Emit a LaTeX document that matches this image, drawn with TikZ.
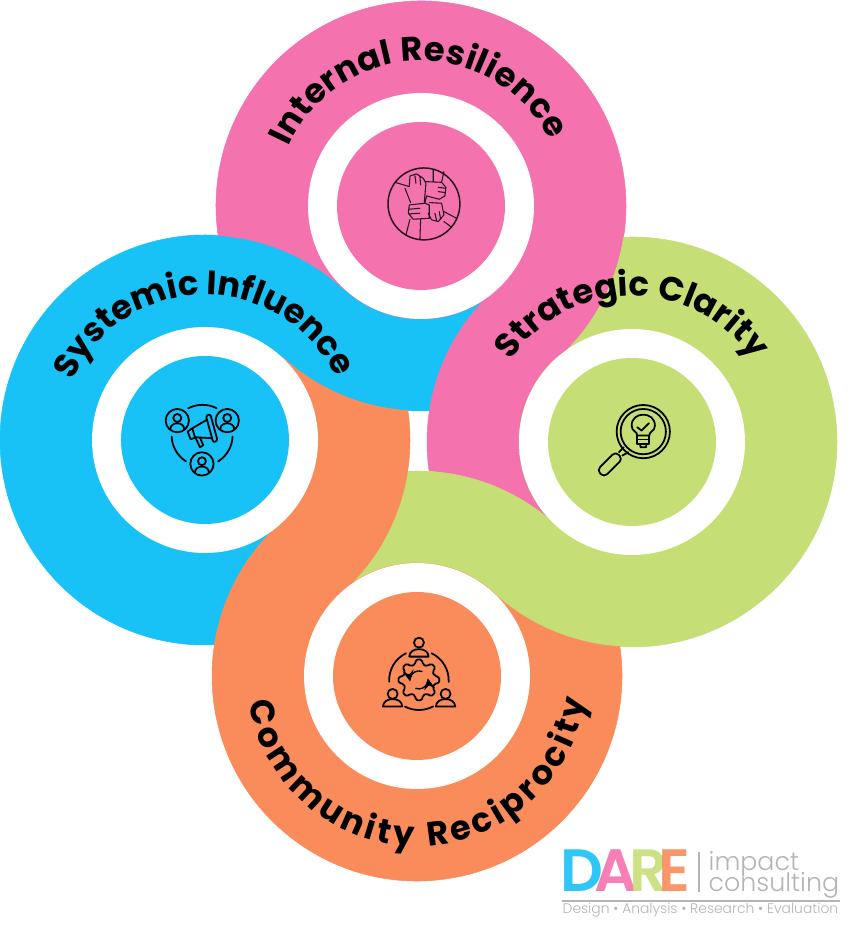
\documentclass[tikz,border=0pt]{standalone}
\usepackage{fontspec}
\setmainfont{Poppins}
\newfontfamily\logolight{Poppins Light}
\newfontfamily\titlefont{Poppins SemiBold}
\usetikzlibrary{arrows, calc, positioning, decorations.text}
\definecolor{ringpink}{HTML}{F472AE}
\definecolor{ringblue}{HTML}{18C1F6}
\definecolor{ringgreen}{HTML}{C5DE76}
\definecolor{ringorange}{HTML}{F98C5A}
\definecolor{logogray}{HTML}{B4B4B6}
\newcommand{\ringarc}[4]{-- ($(#1)+(#3:#2)$) arc[start angle=#3,end angle=#4,radius=#2]}

\begin{document}
\begin{tikzpicture}[
        ringbody/.style={fill=#1, draw=#1, line width=0.15pt},
        hole/.style={circle, fill=white, minimum size=2.26cm, inner sep=0pt},
        hub/.style={circle, minimum size=1.68cm, inner sep=0pt},
        ringtext/.style={decorate, decoration={text along path, text align=fit to path,
            text={|\fontsize{9.6}{12}\selectfont\bfseries|#1}}},
        iconline/.style={black, line width=0.5pt, line cap=round, line join=round},
        handline/.style={black!85!ringpink, line width=0.3pt, line cap=round, line join=round},
        dareletter/.style={inner sep=0pt, text opacity=0.9, font=\titlefont\fontsize{17}{18}\selectfont},
        logotext/.style={inner sep=0pt, text=logogray, font=\logolight\fontsize{7.2}{8}\selectfont}
    ]
        \useasboundingbox (0,0) rectangle (8.51,9.33);

        % Centres of the four rings
        \coordinate (pink) at (4.21,7.27);
        \coordinate (blue) at (2.05,4.93);
        \coordinate (green) at (6.32,4.91);
        \coordinate (orange) at (4.17,2.57);

        % Ring bodies, each one runs on into its neighbour
        \path[ringbody=ringblue] (pink) ++(227.3:1.13) arc[start angle=227.3,end angle=311.8,radius=1.13]
            \ringarc{green}{2.05}{131.8}{171.2} \ringarc{pink}{2.05}{272.3}{227.3}
            \ringarc{blue}{1.13}{47.3}{-48.1} \ringarc{orange}{2.05}{131.9}{171.3}
            \ringarc{blue}{2.05}{272.6}{47.3} -- cycle;
        \path[ringbody=ringpink] (green) ++(131.8:1.13) arc[start angle=131.8,end angle=227.4,radius=1.13]
            \ringarc{orange}{2.05}{47.4}{86.6} \ringarc{green}{2.05}{188.2}{131.8}
            \ringarc{pink}{1.13}{311.8}{227.3} \ringarc{blue}{2.05}{47.3}{86.3}
            \ringarc{pink}{2.05}{188.3}{-48.2} -- cycle;
        \path[ringbody=ringgreen] (orange) ++(47.4:1.13) arc[start angle=47.4,end angle=131.9,radius=1.13]
            \ringarc{blue}{2.05}{311.9}{351.3} \ringarc{orange}{2.05}{92.6}{47.4}
            \ringarc{green}{1.13}{227.4}{131.8} \ringarc{pink}{2.05}{311.8}{351.3}
            \ringarc{green}{2.05}{92.3}{-132.6} -- cycle;
        \path[ringbody=ringorange] (blue) ++(311.9:1.13) arc[start angle=311.9,end angle=407.3,radius=1.13]
            \ringarc{pink}{2.05}{227.3}{266.3} \ringarc{blue}{2.05}{8.3}{-48.1}
            \ringarc{orange}{1.13}{131.9}{47.4} \ringarc{green}{2.05}{227.4}{266.6}
            \ringarc{orange}{2.05}{8.2}{-228.1} -- cycle;

        % White holes and hubs
        \node (pinkhole) [hole] at (pink) {};
        \node (bluehole) [hole] at (blue) {};
        \node (greenhole) [hole] at (green) {};
        \node (orangehole) [hole] at (orange) {};
        \node (pinkhub) [hub, fill=ringpink] at (pink) {};
        \node (bluehub) [hub, fill=ringblue] at (blue) {};
        \node (greenhub) [hub, fill=ringgreen] at (green) {};
        \node (orangehub) [hub, fill=ringorange] at (orange) {};

        % Ring titles
        \path[ringtext={Internal Resilience}] (pink) ++(156:1.45) arc[start angle=156,end angle=27,radius=1.45];
        \path[ringtext={Systemic Influence}] (blue) ++(156:1.45) arc[start angle=156,end angle=26,radius=1.45];
        \path[ringtext={Strategic Clarity}] (green) ++(146:1.46) arc[start angle=146,end angle=34,radius=1.46];
        \path[ringtext={Community Reciprocity}] (orange) ++(189:1.70) arc[start angle=189,end angle=352,radius=1.70];

        % Icon: joined hands
        \begin{scope}[shift={(3.70,7.83)}, x=0.0333mm, y=-0.0333mm]
            \draw[handline, line width=0.42pt] (162,162) circle[radius=108];
            \draw[handline] (78,98) -- (118,110) (105,115) -- (122,158)
                (118,110) -- (120,78) -- (140,72) -- (160,85) -- (168,100) -- (163,158)
                (135,78) -- (138,100) (150,80) -- (152,105);
            \draw[handline] (190,60) -- (190,95) (222,65) -- (215,97)
                (165,95) -- (215,97) -- (228,112) -- (225,138) -- (208,148) -- (170,138) -- (165,158)
                (205,112) -- (226,115) (205,125) -- (226,128);
            \draw[handline] (222,185) -- (260,205) (222,215) -- (245,232)
                (178,158) -- (215,160) -- (222,195) -- (205,215) -- (185,210) -- (175,190)
                (195,190) -- (200,212) (208,185) -- (212,208);
            \draw[handline] (120,208) -- (108,255) (152,210) -- (150,268)
                (118,165) -- (165,160) -- (178,165) -- (178,205) -- (130,208) -- (115,190) -- cycle
                (118,178) -- (150,175) (118,192) -- (150,190);
        \end{scope}

        % Icon: megaphone and three people
        \begin{scope}[shift={(1.50,5.43)}, x=0.0333mm, y=-0.0333mm]
            \foreach \px/\py in {82/92, 232/92, 156/222} {
                \draw[iconline] (\px,\py) circle[radius=35];
                \draw[iconline] (\px,\py-8) circle[radius=12];
                \draw[iconline] (\px-21,\py+26) .. controls (\px-21,\py+2) and (\px+21,\py+2) .. (\px+21,\py+26);
            }
            \draw[iconline] (115,55) arc[start angle=-117.4,end angle=-63,radius=93];
            \draw[iconline] (65,140) arc[start angle=177.5,end angle=122.3,radius=93];
            \draw[iconline] (248,140) arc[start angle=2.5,end angle=57.7,radius=93];
            \draw[iconline, rounded corners=0.6pt] (168,78) -- (181,72) -- (203,152) -- (190,158) -- cycle;
            \draw[iconline] (170,90) -- (127,115) -- (113,125) -- (122,148) -- (140,142) -- (186,145);
            \draw[iconline] (127,115) -- (135,142);
            \draw[iconline] (138,146) -- (150,172) -- (160,166) -- (150,143);
        \end{scope}

        % Icon: magnifier over a bulb
        \begin{scope}[shift={(5.85,5.38)}, x=0.0333mm, y=-0.0333mm]
            \draw[iconline] (175,110) circle[radius=80];
            \draw[iconline] (175,110) circle[radius=68];
            \draw[iconline] (157,122) .. controls (157,108) and (140,110) .. (140,92)
                .. controls (140,48) and (210,48) .. (210,92)
                .. controls (210,110) and (193,108) .. (193,122) -- cycle;
            \draw[iconline] (157,97) -- (170,107) -- (192,85);
            \draw[iconline] (157,122) -- (157,147) -- (193,147) -- (193,122) (157,134) -- (193,134);
            \draw[iconline] (165,147) -- (167,157) -- (183,157) -- (185,147);
            \draw[iconline, rounded corners=1.2pt] (92,170) -- (113,192) -- (57,247) -- (36,226) -- cycle;
            \draw[iconline] (102,172) -- (116,157) (112,182) -- (130,172);
        \end{scope}

        % Icon: gear and three people
        \begin{scope}[shift={(3.70,3.08)}, x=0.0333mm, y=-0.0333mm]
            \draw[iconline] (147,53) circle[radius=15];
            \draw[iconline] (118,95) .. controls (118,65) and (176,65) .. (176,95) -- cycle;
            \draw[iconline] (68,207) circle[radius=15];
            \draw[iconline] (39,245) .. controls (39,215) and (97,215) .. (97,245) -- cycle;
            \draw[iconline] (227,207) circle[radius=15];
            \draw[iconline] (198,245) .. controls (198,215) and (256,215) .. (256,245) -- cycle;
            \draw[iconline] (108,85) arc[start angle=-116,end angle=-183,radius=90];
            \draw[iconline] (185,85) arc[start angle=-64.6,end angle=3,radius=90];
            \draw[iconline] (105,245) arc[start angle=117.7,end angle=61.7,radius=90];
            \begin{scope}[shift={(147,165)}]
                \draw[iconline, rounded corners=0.5pt] (-13:48)
                    \foreach \t in {0,45,...,315} { -- (\t-13:48) -- (\t-9:62) -- (\t+9:62) -- (\t+13:48) } -- cycle;
                \draw[iconline, line width=0.4pt, ->, >=stealth] (-70:27) arc[start angle=-70,end angle=-190,radius=27];
                \draw[iconline, line width=0.4pt, ->, >=stealth] (110:27) arc[start angle=110,end angle=-10,radius=27];
            \end{scope}
        \end{scope}

        % Logo
        \node (logod) [dareletter, text=ringblue, anchor=base west] at (5.60,0.41) {D};
        \node (logoa) [dareletter, text=ringpink, base right=-0.10cm of logod] {A};
        \node (logor) [dareletter, text=ringgreen, base right=-0.10cm of logoa] {R};
        \node (logoe) [dareletter, text=ringorange, base right=-0.10cm of logor] {E};
        \coordinate (bartop) at (6.99,0.81);
        \coordinate (barbottom) at (6.99,0.41);
        \draw[logogray, line width=0.6pt] (bartop) -- (barbottom);
        \node (impact) [logotext, anchor=base west] at (7.08,0.62) {impact};
        \node (consulting) [logotext, anchor=base west] at (7.08,0.41) {consulting};
        \coordinate (ruleleft) at (5.62,0.32);
        \coordinate (ruleright) at (8.40,0.32);
        \draw[logogray, line width=0.5pt] (ruleleft) -- (ruleright);
        \node (strapline) [logotext, anchor=base west, font=\logolight\fontsize{3.95}{5}\selectfont] at (5.62,0.19) {Design • Analysis • Research • Evaluation};

    \end{tikzpicture}
\end{document}
